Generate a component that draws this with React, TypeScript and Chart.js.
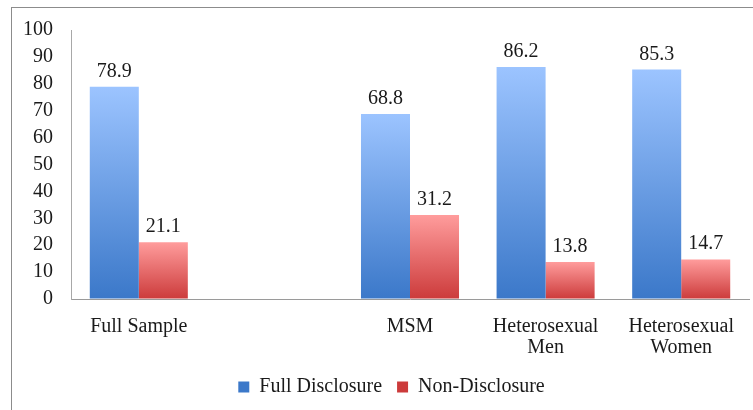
import React, { useEffect, useRef } from "react";
import { Chart, registerables } from "chart.js";

Chart.register(...registerables);

const categories: (string | string[])[] = [
  "Full Sample",
  "",
  "MSM",
  ["Heterosexual", "Men"],
  ["Heterosexual", "Women"],
];
const fullDisclosure: (number | null)[] = [78.9, null, 68.8, 86.2, 85.3];
const nonDisclosure: (number | null)[] = [21.1, null, 31.2, 13.8, 14.7];
const seriesNames = ["Full Disclosure", "Non-Disclosure"];
const yMin = 0;
const yMax = 100;
const yStep = 10;

const FONT = "'Liberation Serif', 'Times New Roman', serif";

function gradientFill(top: string, bottom: string, solid: string) {
  return (ctx: any) => {
    const chart = ctx.chart;
    const area = chart.chartArea;
    if (!area || ctx.type !== "data") return solid;
    const v = ctx.raw;
    if (v == null) return solid;
    const ys = chart.scales.y;
    const y0 = ys.getPixelForValue(0);
    const y1 = ys.getPixelForValue(v);
    if (!isFinite(y0) || !isFinite(y1) || y0 === y1) return solid;
    const g = chart.ctx.createLinearGradient(0, y1, 0, y0);
    g.addColorStop(0, top);
    g.addColorStop(1, bottom);
    return g;
  };
}

const valueLabels = {
  id: "valueLabels",
  afterDatasetsDraw(chart: any) {
    const { ctx } = chart;
    ctx.save();
    ctx.font = `20px ${FONT}`;
    ctx.fillStyle = "#1a1a1a";
    ctx.textAlign = "center";
    ctx.textBaseline = "alphabetic";
    chart.data.datasets.forEach((ds: any, di: number) => {
      const meta = chart.getDatasetMeta(di);
      meta.data.forEach((el: any, i: number) => {
        const v = ds.data[i];
        if (v == null) return;
        ctx.fillText(String(v), el.x, el.y - 10);
      });
    });
    ctx.restore();
  },
};

// nudge the legend so it sits centred under the plot as in the reference
const legendShift = {
  id: "legendShift",
  afterLayout(chart: any) {
    const lg = chart.legend;
    if (lg) {
      lg.left += 17;
      lg.right += 17;
    }
  },
};

export default function App() {
  const ref = useRef<HTMLCanvasElement | null>(null);

  useEffect(() => {
    if (!ref.current) return;
    const chart = new Chart(ref.current, {
      type: "bar",
      data: {
        labels: categories as any,
        datasets: [
          {
            label: seriesNames[0],
            data: fullDisclosure,
            backgroundColor: gradientFill("#9cc4ff", "#3b78c9", "#5b8fdc"),
            borderWidth: 0,
            categoryPercentage: 0.723,
            barPercentage: 1,
          },
          {
            label: seriesNames[1],
            data: nonDisclosure,
            backgroundColor: gradientFill("#ff9c9c", "#cc3b3b", "#e06060"),
            borderWidth: 0,
            categoryPercentage: 0.723,
            barPercentage: 1,
          },
        ],
      },
      options: {
        animation: false,
        responsive: false,
        maintainAspectRatio: false,
        layout: { padding: { top: 27, left: 0, right: 4, bottom: 3 } },
        plugins: {
          legend: {
            position: "bottom",
            labels: {
              font: { family: FONT, size: 20 },
              color: "#1a1a1a",
              boxWidth: 11,
              boxHeight: 11,
              padding: 15,
            },
          },
          tooltip: { enabled: false },
        },
        scales: {
          x: {
            grid: { drawOnChartArea: false, drawTicks: false },
            border: { display: true, color: "#9a9a9a", width: 1 },
            ticks: {
              font: { family: FONT, size: 20, lineHeight: 1.05 },
              color: "#1a1a1a",
              padding: 17,
              maxRotation: 0,
              autoSkip: false,
            },
            afterFit: (s: any) => {
              s.height = 63;
            },
          },
          y: {
            min: yMin,
            max: yMax,
            grid: { drawOnChartArea: false, drawTicks: false },
            border: { display: true, color: "#a8a8a8", width: 1 },
            ticks: {
              stepSize: yStep,
              autoSkip: false,
              font: { family: FONT, size: 20 },
              color: "#1a1a1a",
              padding: 18,
            },
            afterFit: (s: any) => {
              s.width = 71;
            },
          },
        },
      },
      plugins: [valueLabels, legendShift],
    });
    return () => chart.destroy();
  }, []);

  return (
    <div
      style={{
        position: "fixed",
        left: 0,
        top: 0,
        width: 753,
        height: 410,
        overflow: "hidden",
        background: "#fff",
      }}
    >
      <div
        style={{
          position: "absolute",
          left: 11,
          top: 7,
          width: 800,
          height: 500,
          border: "1px solid #8c8c8c",
        }}
      />
      <canvas
        ref={ref}
        width={753}
        height={410}
        style={{ position: "absolute", left: 0, top: 0, width: 753, height: 410 }}
      />
    </div>
  );
}
